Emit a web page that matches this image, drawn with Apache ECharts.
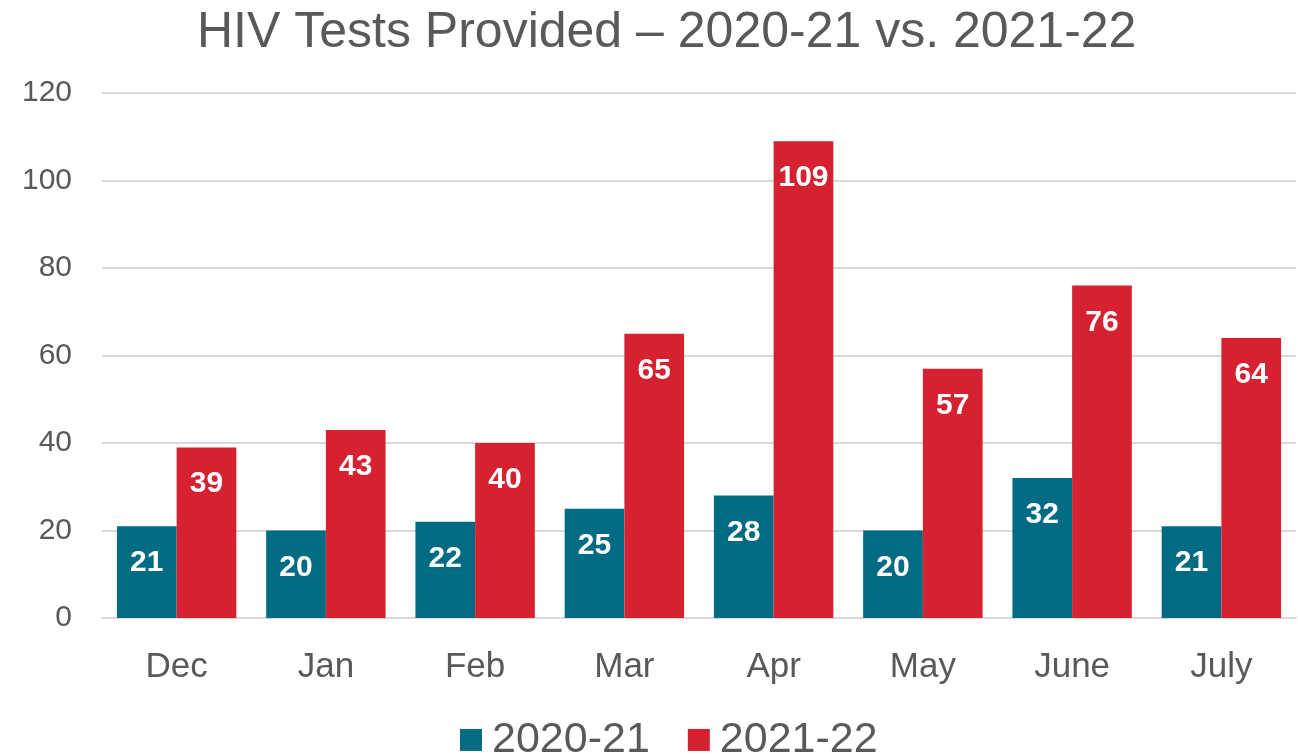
<script src="https://cdn.jsdelivr.net/npm/echarts@6.0.0/dist/echarts.min.js"></script>
<div id="main" style="width:1298px;height:754px;margin:0;padding:0;"></div>
<style>body{margin:0;}</style>
<script>
    var months = ['Dec', 'Jan', 'Feb', 'Mar', 'Apr', 'May', 'June', 'July'];
    var tests2021 = [21, 20, 22, 25, 28, 20, 32, 21];
    var tests2122 = [39, 43, 40, 65, 109, 57, 76, 64];
    var seriesNames = ['2020-21', '2021-22'];

    var myChart = echarts.init(document.getElementById('main'));
    var font = '"Liberation Sans", Arial, Helvetica, sans-serif';

    var label = {
        show: true,
        position: 'insideTop',
        distance: 11,
        color: '#fff',
        fontWeight: 'bold',
        fontSize: 30,
        fontFamily: font
    };

    var option = {
        animation: false,
        title: {
            text: 'HIV Tests Provided \u2013 2020-21 vs. 2021-22',
            left: 192,
            top: -15,
            textStyle: { fontSize: 50, fontWeight: 'normal', color: '#595959', fontFamily: font }
        },
        legend: {
            data: seriesNames,
            bottom: -28,
            left: 455,
            itemWidth: 22,
            itemHeight: 22,
            itemGap: 38,
            icon: 'rect',
            textStyle: { fontSize: 43, color: '#595959', fontFamily: font, padding: [0, 0, 0, 5] }
        },
        grid: { left: 102, right: 2, top: 93, bottom: 136, containLabel: false },
        xAxis: {
            type: 'category',
            data: months,
            axisTick: { show: false },
            axisLine: { lineStyle: { color: '#d9d9d9', width: 2 } },
            axisLabel: { fontSize: 35, color: '#595959', margin: 19, fontFamily: font }
        },
        yAxis: {
            type: 'value',
            min: 0,
            max: 120,
            interval: 20,
            axisLabel: { fontSize: 30, color: '#595959', margin: 30, fontFamily: font },
            splitLine: { lineStyle: { color: '#d9d9d9', width: 2 } }
        },
        series: [
            {
                name: seriesNames[0],
                type: 'bar',
                data: tests2021,
                barGap: '0%',
                barCategoryGap: '20%',
                itemStyle: { color: '#006B82' },
                label: label
            },
            {
                name: seriesNames[1],
                type: 'bar',
                data: tests2122,
                itemStyle: { color: '#D62131' },
                label: label
            }
        ]
    };

    myChart.setOption(option);
</script>
